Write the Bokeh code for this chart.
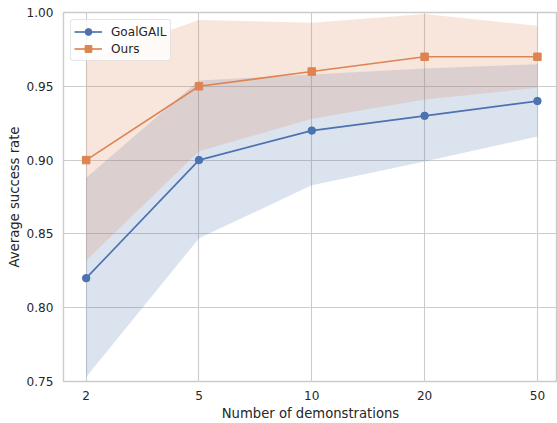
from bokeh.plotting import figure
from bokeh.models import ColumnDataSource, FixedTicker, Range1d, Legend, LegendItem, PrintfTickFormatter
from bokeh.embed import file_html
from bokeh.resources import INLINE

x_labels = ["2", "5", "10", "20", "50"]
goalgail_mean = [0.82, 0.90, 0.92, 0.93, 0.94]
goalgail_lower = [0.753, 0.847, 0.883, 0.899, 0.916]
goalgail_upper = [0.888, 0.954, 0.958, 0.962, 0.965]
ours_mean = [0.90, 0.95, 0.96, 0.97, 0.97]
ours_lower = [0.832, 0.906, 0.928, 0.941, 0.949]
ours_upper = [0.968, 0.995, 0.993, 0.999, 0.991]
y_ticks = [0.75, 0.80, 0.85, 0.90, 0.95, 1.00]

BLUE = "#4c72b0"
ORANGE = "#dd8452"
GRID = "#cccccc"
TEXT = "#262626"
FONT = "DejaVu Sans"

xpos = list(range(len(x_labels)))
src = ColumnDataSource(dict(
    x=xpos, gm=goalgail_mean, gl=goalgail_lower, gu=goalgail_upper,
    om=ours_mean, ol=ours_lower, ou=ours_upper,
))

p = figure(width=557, height=423, output_backend="svg", toolbar_location=None,
           x_range=Range1d(-0.201, 4.178), y_range=Range1d(0.75, 1.0),
           min_border_left=63, min_border_right=0, min_border_top=12, min_border_bottom=41)

p.background_fill_color = "white"
p.border_fill_color = "white"
p.outline_line_color = GRID
p.outline_line_width = 1.4

p.varea(x="x", y1="gl", y2="gu", source=src, fill_color=BLUE, fill_alpha=0.2)
p.varea(x="x", y1="ol", y2="ou", source=src, fill_color=ORANGE, fill_alpha=0.2)

gl_line = p.line(x="x", y="gm", source=src, line_color=BLUE, line_width=1.65)
gl_pts = p.scatter(x="x", y="gm", source=src, marker="circle", size=7.5,
                   fill_color=BLUE, line_color=BLUE)
o_line = p.line(x="x", y="om", source=src, line_color=ORANGE, line_width=1.65)
o_pts = p.scatter(x="x", y="om", source=src, marker="square", size=7.5,
                  fill_color=ORANGE, line_color=ORANGE)

p.xaxis.ticker = FixedTicker(ticks=xpos)
p.xaxis.major_label_overrides = {i: lab for i, lab in enumerate(x_labels)}
p.yaxis.ticker = FixedTicker(ticks=y_ticks)
p.yaxis.formatter = PrintfTickFormatter(format="%.2f")

for ax in (p.xaxis, p.yaxis):
    ax.axis_line_color = None
    ax.major_tick_line_color = None
    ax.minor_tick_line_color = None
    ax.major_tick_out = 0
    ax.major_tick_in = 0
    ax.major_label_text_font = FONT
    ax.major_label_text_font_size = "12.1px"
    ax.major_label_text_color = TEXT
    ax.axis_label_text_font = FONT
    ax.axis_label_text_font_size = "13.2px"
    ax.axis_label_text_font_style = "normal"
    ax.axis_label_text_color = TEXT

p.xaxis.axis_label = "Number of demonstrations"
p.yaxis.axis_label = "Average success rate"
p.xaxis.major_label_standoff = 9
p.yaxis.major_label_standoff = 10
p.xaxis.axis_label_standoff = 3
p.yaxis.axis_label_standoff = 2

p.xgrid.grid_line_color = GRID
p.ygrid.grid_line_color = GRID
p.xgrid.grid_line_width = 1.1
p.ygrid.grid_line_width = 1.1

legend = Legend(items=[
    LegendItem(label="GoalGAIL", renderers=[gl_line, gl_pts]),
    LegendItem(label="Ours", renderers=[o_line, o_pts]),
], location="top_left")
legend.margin = 7
legend.padding = 3
legend.spacing = 0
legend.glyph_width = 28
legend.glyph_height = 17
legend.label_height = 17
legend.label_standoff = 9
legend.label_text_font = FONT
legend.label_text_font_size = "12.1px"
legend.label_text_color = TEXT
legend.border_line_color = GRID
legend.border_line_width = 1
legend.border_radius = 3
legend.background_fill_color = "white"
legend.background_fill_alpha = 0.8
p.add_layout(legend, "center")

open("out.html", "w").write(file_html(p, INLINE))
